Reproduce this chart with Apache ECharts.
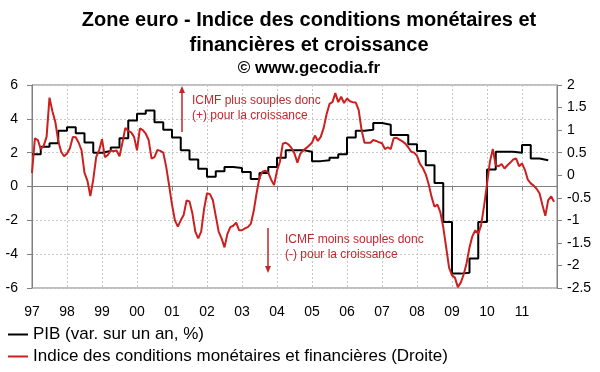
<!DOCTYPE html>
<html><head><meta charset="utf-8">
<script src="https://cdn.jsdelivr.net/npm/echarts@6/dist/echarts.min.js"></script>
<style>html,body{margin:0;padding:0;background:#fff}#c{width:600px;height:372px}</style>
</head><body><div id="c"></div>
<script>
// ---- data ----
const xTickLabels = ['97','98','99','00','01','02','03','04','05','06','07','08','09','10','11'];
const startYear = 1997;
const endYear = 2012;
// Euro-zone GDP, y/y %, quarterly from 1997Q1 to 2011Q3 (left axis)
const pibQuarterly = [
  1.9, 2.35, 2.55, 3.3,
  3.5, 3.15, 2.6, 2.0,
  2.1, 2.3, 2.85, 3.9,
  4.3, 4.5, 3.8, 3.35,
  2.9, 2.15, 1.6, 1.05,
  0.58, 0.9, 1.15, 1.1,
  0.85, 0.45, 0.8, 1.15,
  1.7, 2.15, 2.15, 2.05,
  1.5, 1.55, 1.7, 1.9,
  2.9, 3.3, 3.35, 3.75,
  3.65, 3.05, 3.05, 2.5,
  2.1, 1.25, 0.2, -2.1,
  -5.15, -5.1, -4.25, -2.1,
  1.0, 2.05, 2.05, 2.0,
  2.45, 1.65, 1.55
];
// ICMF, monthly from Jan 1997 to Dec 2011 (right axis)
const icmfMonthly = [
  0.05, 0.82, 0.78, 0.58, 0.65, 0.85, 1.72, 1.42, 1.18, 0.76, 0.52, 0.42,
  0.48, 0.60, 0.85, 0.84, 0.72, 0.55, 0.05, -0.12, -0.46, -0.10, 0.40, 0.55,
  0.80, 0.40, 0.45, 0.55, 0.53, 0.55, 0.42, 0.72, 1.05, 0.98, 0.95, 0.85,
  0.55, 1.04, 1.00, 0.92, 0.78, 0.37, 0.40, 0.56, 0.54, 0.50, 0.19, -0.22,
  -0.65, -1.00, -1.14, -1.00, -0.88, -0.56, -0.58, -0.85, -1.25, -1.40, -1.25, -0.75,
  -0.40, -0.42, -0.55, -0.90, -1.25, -1.40, -1.60, -1.30, -1.15, -1.12, -1.05, -1.22,
  -1.22, -1.18, -1.15, -1.08, -0.80, -0.40, -0.05, 0.08, 0.10, 0.06, -0.10, -0.22,
  0.10, 0.30, 0.70, 0.72, 0.68, 0.60, 0.48, 0.28, 0.48, 0.55, 0.60, 0.66,
  0.72, 0.88, 0.76, 0.85, 1.05, 1.35, 1.58, 1.62, 1.82, 1.62, 1.74, 1.60,
  1.70, 1.64, 1.62, 1.61, 1.45, 1.00, 0.72, 0.72, 0.72, 0.78, 0.76, 0.73,
  0.71, 0.58, 0.62, 0.58, 0.82, 0.83, 0.79, 0.75, 0.70, 0.62, 0.52, 0.50,
  0.43, 0.25, 0.16, 0.02, -0.20, -0.48, -0.70, -0.65, -0.82, -1.15, -1.60, -2.05,
  -2.22, -2.27, -2.48, -2.38, -2.20, -1.95, -1.60, -1.35, -1.22, -1.30, -1.10, -0.68,
  -0.20, 0.30, 0.58, 0.22, 0.20, 0.25, 0.15, 0.22, 0.28, 0.35, 0.37, 0.20,
  0.26, 0.12, -0.10, -0.18, -0.23, -0.30, -0.40, -0.66, -0.90, -0.55, -0.47, -0.59
];
const seriesNames = ['PIB (var. sur un an, %)', 'Indice des conditions monétaires et financières (Droite)'];
const titleLines = ['Zone euro - Indice des conditions monétaires et', 'financières et croissance'];
const subTitle = '© www.gecodia.fr';
const noteUp = ['ICMF plus souples donc', '(+) pour la croissance'];
const noteDown = ['ICMF moins souples donc', '(-) pour la croissance'];

// ---- build ----
const FONT = "'Liberation Sans', Arial, sans-serif";
const RED = '#cc1f1f';
const NOTE = '#c0282d';
const GRAY = '#808080';

const pibData = pibQuarterly.map((v, i) => [startYear + i / 4, v]);
pibData.push([startYear + pibQuarterly.length / 4, pibQuarterly[pibQuarterly.length - 1]]);
const icmfData = icmfMonthly.map((v, i) => [startYear + i / 12, v]);

const chart = echarts.init(document.getElementById('c'), null, {renderer: 'canvas'});
const labelStyle = {color: '#000', fontFamily: FONT, fontSize: 14};
const legendBase = {
  orient: 'horizontal', left: 8, padding: 0, icon: 'rect', itemWidth: 20, itemHeight: 2, itemGap: 4,
  textStyle: {color: '#000', fontFamily: FONT, fontSize: 17}
};

chart.setOption({
  animation: false,
  backgroundColor: '#fff',
  grid: {left: 32, right: 43, top: 85, bottom: 84, show: true, borderColor: GRAY, borderWidth: 1, backgroundColor: 'transparent'},
  legend: [
    Object.assign({}, legendBase, {data: [seriesNames[0]], top: 326}),
    Object.assign({}, legendBase, {data: [seriesNames[1]], top: 348})
  ],
  xAxis: [
    {
      type: 'value', min: startYear, max: endYear, interval: 1, position: 'bottom',
      axisLine: {show: false, onZero: false}, axisTick: {show: false},
      axisLabel: Object.assign({}, labelStyle, {margin: 17, formatter: v => {
        const i = Math.round(v - startYear); return xTickLabels[i] !== undefined ? xTickLabels[i] : '';
      }}),
      splitLine: {show: true, lineStyle: {color: '#c8c8c8', type: [2, 2], width: 1}}
    },
    {
      type: 'value', min: startYear, max: endYear, interval: 1, position: 'bottom',
      axisLine: {show: true, onZero: true, onZeroAxisIndex: 0, lineStyle: {color: GRAY, width: 1}},
      axisTick: {show: true, inside: false, length: 4, lineStyle: {color: GRAY}},
      axisLabel: {show: false}, splitLine: {show: false}
    }
  ],
  yAxis: [
    {
      type: 'value', min: -6, max: 6, interval: 2, position: 'left',
      axisLine: {show: true, onZero: false, lineStyle: {color: GRAY}},
      axisTick: {show: true, inside: false, length: 5, lineStyle: {color: GRAY}},
      axisLabel: Object.assign({}, labelStyle, {margin: 14}),
      splitLine: {show: true, lineStyle: {color: '#c8c8c8', type: [2, 2], width: 1}}
    },
    {
      type: 'value', min: -2.5, max: 2, interval: 0.5, position: 'right',
      axisLine: {show: true, onZero: false, lineStyle: {color: GRAY}},
      axisTick: {show: true, inside: false, length: 5, lineStyle: {color: GRAY}},
      axisLabel: Object.assign({}, labelStyle, {margin: 10}),
      splitLine: {show: false}
    }
  ],
  series: [
    {
      name: seriesNames[0], type: 'line', xAxisIndex: 0, yAxisIndex: 0, data: pibData,
      step: 'end', showSymbol: false, symbol: 'none', z: 3,
      lineStyle: {color: '#000', width: 2}, itemStyle: {color: '#000'}
    },
    {
      name: seriesNames[1], type: 'line', xAxisIndex: 0, yAxisIndex: 1, data: icmfData,
      showSymbol: false, symbol: 'none', z: 4,
      lineStyle: {color: RED, width: 2}, itemStyle: {color: RED}
    }
  ],
  graphic: [
    {type: 'text', x: 309, y: 20, style: {text: titleLines[0], font: 'bold 20px ' + FONT, fill: '#000', textAlign: 'center', textVerticalAlign: 'middle'}},
    {type: 'text', x: 309, y: 45, style: {text: titleLines[1], font: 'bold 20px ' + FONT, fill: '#000', textAlign: 'center', textVerticalAlign: 'middle'}},
    {type: 'text', x: 309, y: 68, style: {text: subTitle, font: 'bold 17px ' + FONT, fill: '#000', textAlign: 'center', textVerticalAlign: 'middle'}},
    {type: 'text', x: 192, y: 101, style: {text: noteUp[0], font: '12px ' + FONT, fill: NOTE, textAlign: 'left', textVerticalAlign: 'middle'}, z: 10},
    {type: 'text', x: 192, y: 116, style: {text: noteUp[1], font: '12px ' + FONT, fill: NOTE, textAlign: 'left', textVerticalAlign: 'middle'}, z: 10},
    {type: 'line', shape: {x1: 182, y1: 132, x2: 182, y2: 92}, style: {stroke: NOTE, lineWidth: 1.5}, z: 10},
    {type: 'polygon', shape: {points: [[179, 93], [185, 93], [182, 86]]}, style: {fill: NOTE}, z: 10},
    {type: 'text', x: 285, y: 240, style: {text: noteDown[0], font: '12px ' + FONT, fill: NOTE, textAlign: 'left', textVerticalAlign: 'middle'}, z: 10},
    {type: 'text', x: 285, y: 255, style: {text: noteDown[1], font: '12px ' + FONT, fill: NOTE, textAlign: 'left', textVerticalAlign: 'middle'}, z: 10},
    {type: 'line', shape: {x1: 268, y1: 228, x2: 268, y2: 267}, style: {stroke: NOTE, lineWidth: 1.5}, z: 10},
    {type: 'polygon', shape: {points: [[265, 266], [271, 266], [268, 273]]}, style: {fill: NOTE}, z: 10}
  ]
});
</script>
</body></html>
